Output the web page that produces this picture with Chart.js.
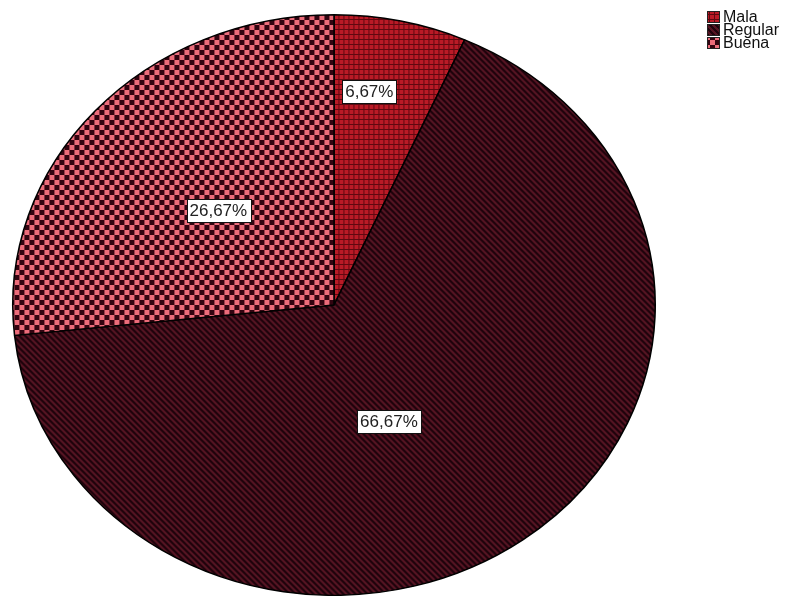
<!DOCTYPE html>
<html>
<head>
<meta charset="utf-8">
<script src="https://cdn.jsdelivr.net/npm/chart.js@4/dist/chart.umd.min.js"></script>
<style>
html,body{margin:0;padding:0;background:#fff;overflow:hidden;}
#wrap{width:785px;height:596px;position:relative;}
</style>
</head>
<body>
<div id="wrap"><canvas id="c" width="785" height="596"></canvas></div>
<script>
const categories = ["Mala", "Regular", "Buena"];
const percentages = [6.67, 66.67, 26.67];
const valueLabels = ["6,67%", "66,67%", "26,67%"];

function makePattern(size, fn) {
  const c = document.createElement('canvas');
  c.width = size; c.height = size;
  const x = c.getContext('2d');
  const img = x.createImageData(size, size);
  for (let j = 0; j < size; j++) for (let i = 0; i < size; i++) {
    const col = fn(i, j);
    const k = (j * size + i) * 4;
    img.data[k] = col[0]; img.data[k+1] = col[1]; img.data[k+2] = col[2]; img.data[k+3] = 255;
  }
  x.putImageData(img, 0, 0);
  return document.getElementById('c').getContext('2d').createPattern(c, 'repeat');
}
const patMala = makePattern(5, (i, j) => (i === 4 || j === 4) ? [96, 8, 16] : [186, 26, 38]);
const patRegular = makePattern(6, (i, j) => (((i - j) % 6 + 6) % 6 < 3) ? [32, 3, 12] : [84, 20, 34]);
const patBuena = makePattern(10, (i, j) => ((Math.floor(i / 5) + Math.floor(j / 5)) % 2 === 0) ? [236, 108, 122] : [50, 4, 16]);
const patterns = [patMala, patRegular, patBuena];

const ELLIPSE_X = 322 / 291;
const labelAnchors = [[0.110, -0.737], [0.171, 0.400], [-0.360, -0.326]];

const ellipsePlugin = {
  id: 'ellipse',
  beforeDatasetsDraw(chart) {
    const arc = chart.getDatasetMeta(0).data[0];
    const ctx = chart.ctx;
    ctx.save();
    ctx.translate(arc.x, arc.y);
    ctx.scale(ELLIPSE_X, 1);
    ctx.translate(-arc.x, -arc.y);
    patterns.forEach(p => p.setTransform(new DOMMatrix([1 / ELLIPSE_X, 0, 0, 1, 0, 0])));
  },
  afterDatasetsDraw(chart) {
    const ctx = chart.ctx;
    ctx.restore();
    patterns.forEach(p => p.setTransform(new DOMMatrix()));
    const meta = chart.getDatasetMeta(0);
    const a0 = meta.data[0];
    const rx = a0.outerRadius * ELLIPSE_X, ry = a0.outerRadius;
    ctx.save();
    ctx.font = '17px "Liberation Sans", Arial, sans-serif';
    ctx.textAlign = 'center';
    ctx.textBaseline = 'middle';
    meta.data.forEach((arc, i) => {
      const cx = arc.x + labelAnchors[i][0] * rx;
      const cy = arc.y + labelAnchors[i][1] * ry;
      const t = valueLabels[i];
      const w = ctx.measureText(t).width + 6;
      const h = 23;
      ctx.fillStyle = '#ffffff';
      ctx.fillRect(Math.round(cx - w / 2) + 0.5, Math.round(cy - h / 2) + 0.5, Math.round(w), h);
      ctx.strokeStyle = '#111';
      ctx.lineWidth = 1;
      ctx.strokeRect(Math.round(cx - w / 2) + 0.5, Math.round(cy - h / 2) + 0.5, Math.round(w), h);
      ctx.fillStyle = '#222';
      ctx.fillText(t, cx, cy + 1);
    });
    ctx.restore();
  }
};

const legendPlugin = {
  id: 'customLegend',
  afterDraw(chart) {
    const ctx = chart.ctx;
    ctx.save();
    ctx.font = '16px "Liberation Sans", Arial, sans-serif';
    ctx.textBaseline = 'middle';
    ctx.textAlign = 'left';
    chart.data.labels.forEach((lab, i) => {
      const y = 17 + i * 13;
      ctx.fillStyle = chart.data.datasets[0].backgroundColor[i];
      ctx.fillRect(707, y - 6, 13, 12);
      ctx.strokeStyle = '#222';
      ctx.lineWidth = 1;
      ctx.strokeRect(707.5, y - 5.5, 12, 11);
      ctx.fillStyle = '#111';
      ctx.fillText(lab, 723, y + 1);
    });
    ctx.restore();
  }
};

new Chart(document.getElementById('c'), {
  type: 'pie',
  data: {
    labels: categories,
    datasets: [{
      data: percentages,
      backgroundColor: patterns,
      borderColor: '#000000',
      borderWidth: 1.4
    }]
  },
  options: {
    responsive: false,
    animation: false,
    layout: { padding: { left: 12, right: 129, top: 14, bottom: 0 } },
    plugins: { legend: { display: false }, tooltip: { enabled: false } }
  },
  plugins: [ellipsePlugin, legendPlugin]
});
</script>
</body>
</html>
